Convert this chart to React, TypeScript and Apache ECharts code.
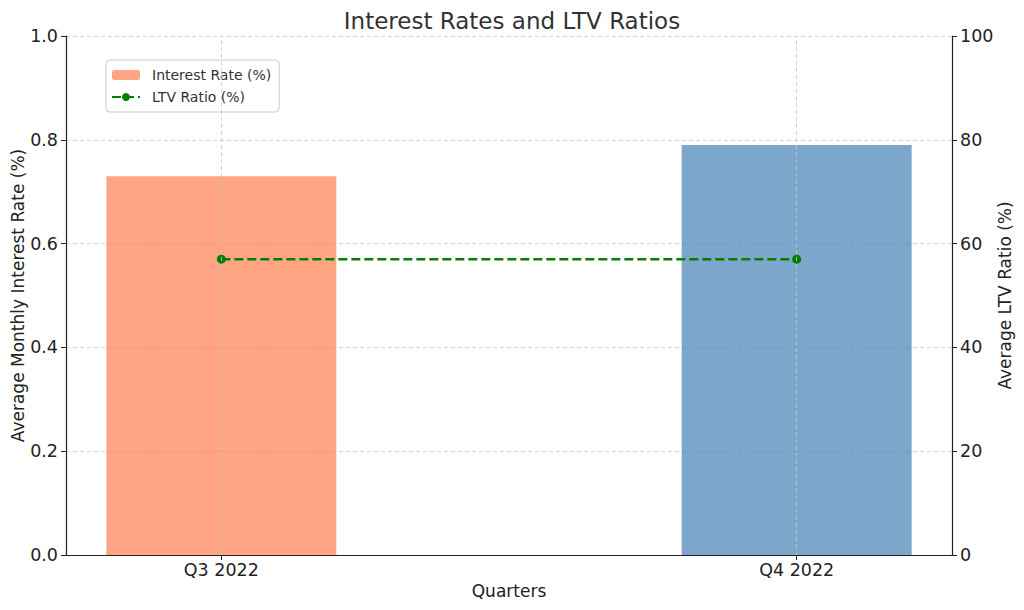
import React, { useEffect, useRef } from "react";
import * as echarts from "echarts";

const quarters = ["Q3 2022", "Q4 2022"];
const interestRates = [0.73, 0.79];
const ltvRatios = [57, 57];
const barColors = ["#FF7F50", "#4682B4"];

export default function App() {
  const ref = useRef<HTMLDivElement>(null);
  useEffect(() => {
    if (!ref.current) return;
    const chart = echarts.init(ref.current, null, { renderer: "svg" });
    const font = "DejaVu Sans";
    const positions = quarters.map((_, i) => i);
    const fs = 17.5;
    chart.setOption({
      animation: false,
      textStyle: { fontFamily: font },
      title: {
        text: "Interest Rates and LTV Ratios",
        left: "center",
        top: 4,
        textStyle: { fontFamily: font, fontSize: 23, fontWeight: "normal", color: "#333" },
      },
      legend: {
        left: 106,
        top: 60,
        orient: "vertical",
        itemWidth: 28,
        itemHeight: 10,
        itemGap: 8,
        padding: [8, 8, 8, 5],
        borderColor: "#ccc",
        borderWidth: 1,
        borderRadius: 4,
        backgroundColor: "rgba(255,255,255,0.8)",
        textStyle: { fontFamily: font, fontSize: 14, color: "#333", padding: [0, 0, 0, 7] },
        data: ["Interest Rate (%)", "LTV Ratio (%)"],
      },
      grid: { left: 66, right: 72, top: 36, bottom: 55, containLabel: false, outerBoundsMode: "none" },
      xAxis: {
        type: "value",
        min: -0.27,
        max: 1.27,
        name: "Quarters",
        nameLocation: "middle",
        nameGap: 27,
        nameMoveOverlap: false,
        nameTextStyle: { fontFamily: font, fontSize: 17, color: "#222" },
        axisLine: { show: true, onZero: false, lineStyle: { color: "#222", width: 1.2 } },
        axisTick: { show: true, customValues: positions, length: 5, lineStyle: { color: "#222" } },
        axisLabel: {
          customValues: positions,
          fontFamily: font,
          fontSize: fs,
          color: "#222",
          margin: 6,
          formatter: (v: number) => quarters[Math.round(v)] ?? "",
        },
        splitLine: { show: false },
      },
      yAxis: [
        {
          type: "value",
          min: 0,
          max: 1,
          interval: 0.2,
          name: "Average Monthly Interest Rate (%)",
          nameLocation: "middle",
          nameGap: 40,
          nameMoveOverlap: false,
          nameTextStyle: { fontFamily: font, fontSize: 17, color: "#222" },
          axisLine: { show: true, onZero: false, lineStyle: { color: "#222", width: 1.2 } },
          axisTick: { show: true, length: 5, lineStyle: { color: "#222" } },
          axisLabel: {
            fontFamily: font,
            fontSize: fs,
            color: "#222",
            margin: 8,
            formatter: (v: number) => v.toFixed(1),
          },
          splitLine: { show: true, lineStyle: { color: "#c8c8c8", type: [4, 3], width: 0.8 } },
        },
        {
          type: "value",
          min: 0,
          max: 100,
          interval: 20,
          position: "right",
          name: "Average LTV Ratio (%)",
          nameLocation: "middle",
          nameGap: 44,
          nameMoveOverlap: false,
          nameTextStyle: { fontFamily: font, fontSize: 17, color: "#222" },
          axisLine: { show: true, onZero: false, lineStyle: { color: "#222", width: 1.2 } },
          axisTick: { show: true, length: 5, lineStyle: { color: "#222" } },
          axisLabel: { fontFamily: font, fontSize: fs, color: "#222", margin: 8 },
          splitLine: { show: false },
        },
      ],
      series: [
        {
          name: "Interest Rate (%)",
          type: "bar",
          barWidth: 230,
          itemStyle: { color: barColors[0], opacity: 0.7 },
          data: interestRates.map((v, i) => ({
            value: [positions[i], v],
            itemStyle: { color: barColors[i], opacity: 0.7 },
          })),
          markLine: {
            silent: true,
            symbol: "none",
            label: { show: false },
            lineStyle: { color: "#c8c8c8", type: [4, 3], width: 0.8 },
            data: positions.map((p) => ({ xAxis: p })),
          },
          z: 2,
        },
        {
          name: "LTV Ratio (%)",
          type: "line",
          yAxisIndex: 1,
          symbol: "circle",
          symbolSize: 9,
          itemStyle: { color: "#008000" },
          lineStyle: { color: "#008000", type: [9, 4], width: 2.5 },
          data: ltvRatios.map((v, i) => [positions[i], v]),
          z: 3,
        },
      ],
    });
    return () => chart.dispose();
  }, []);
  return <div ref={ref} style={{ width: 1024, height: 610, position: "absolute", left: 0, top: 0 }} />;
}
